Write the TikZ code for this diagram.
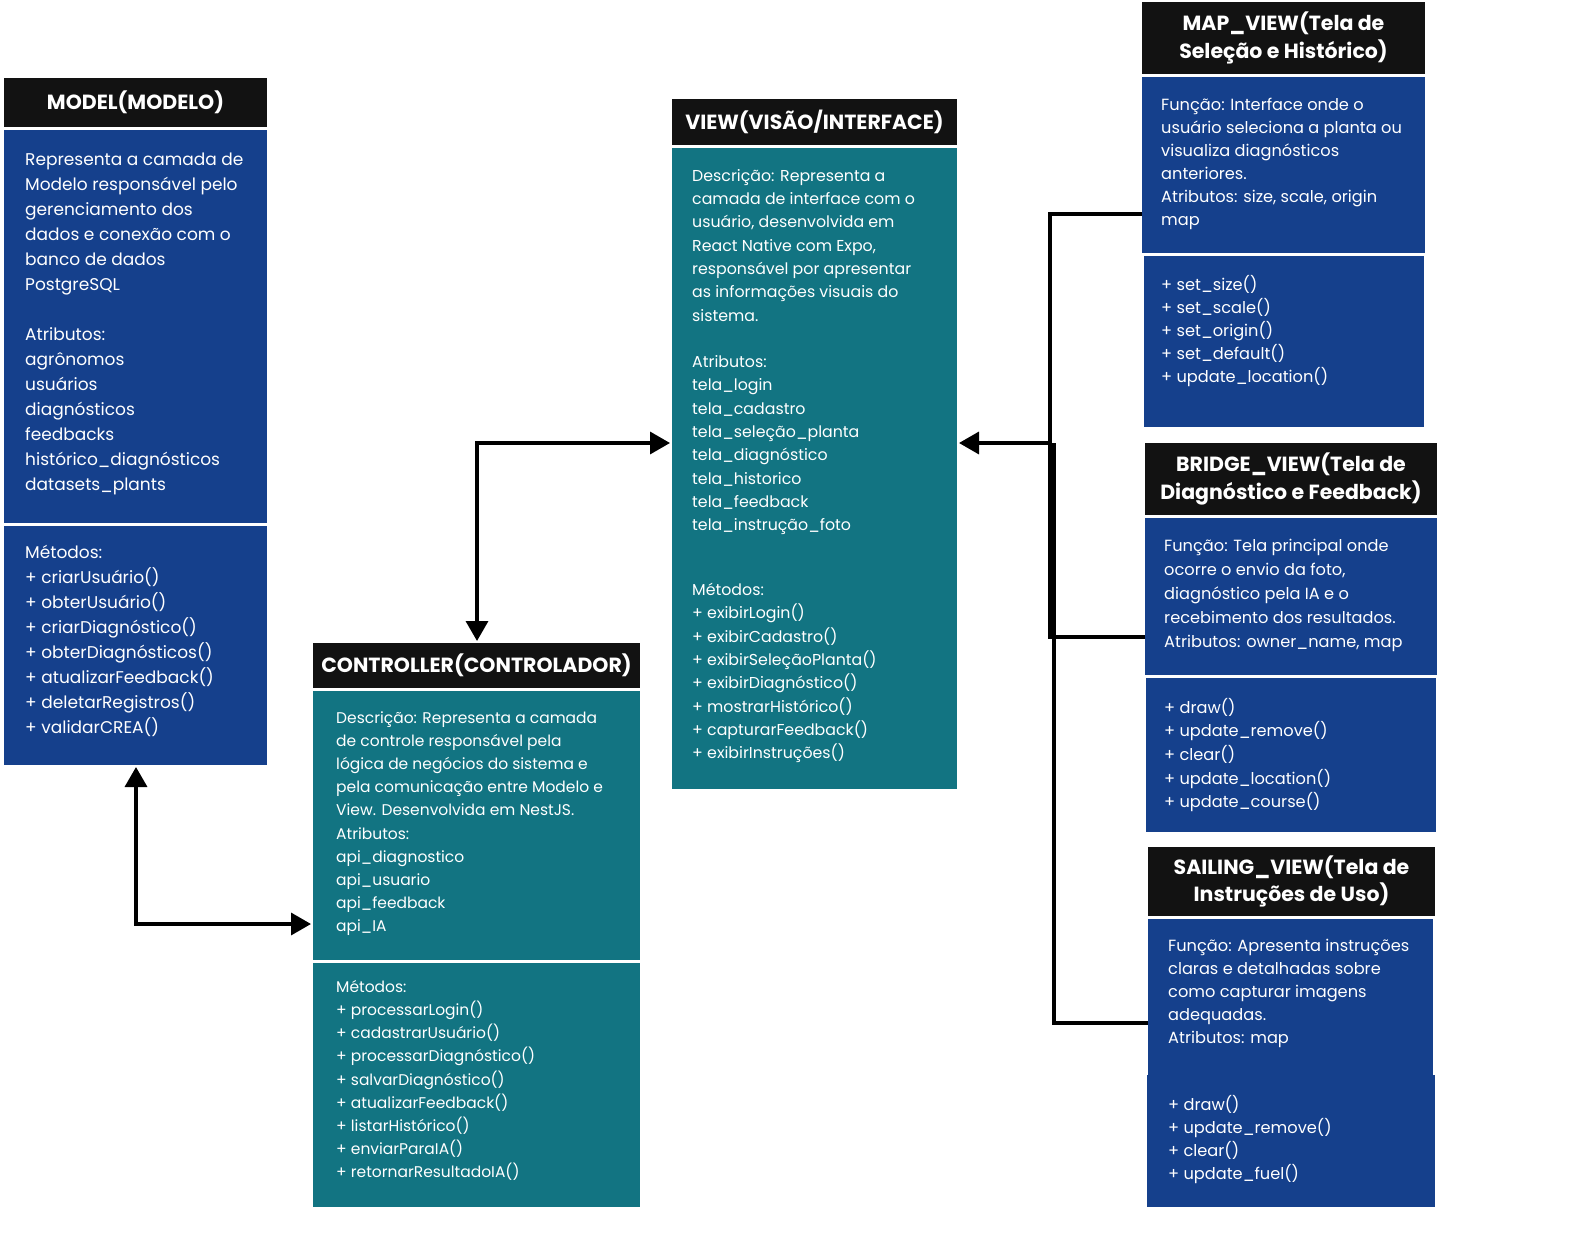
\documentclass[tikz,border=0pt]{standalone}
\usepackage{fontspec}
\setmainfont{Poppins}
\usetikzlibrary{arrows.meta,fit}
\definecolor{hdrblack}{HTML}{121212}
\definecolor{mvcblue}{HTML}{15408C}
\definecolor{mvcteal}{HTML}{127482}
\begin{document}
\begin{tikzpicture}[
    x=1pt, y=-1pt,
    hdr/.style={fill=hdrblack, inner sep=0pt},
    hdrtxt/.style={text=white, inner sep=0pt, align=center,
                   font=\bfseries\fontsize{20.5}{27.5}\selectfont},
    bluebox/.style={fill=mvcblue, inner sep=0pt},
    tealbox/.style={fill=mvcteal, inner sep=0pt},
    txt/.style={anchor=north west, text=white, align=left, inner sep=0pt},
    bigtxt/.style={txt, font=\fontsize{17}{25}\selectfont},
    ctrltxt/.style={txt, font=\fontsize{15.5}{23.2}\selectfont},
    viewtxt/.style={txt, font=\fontsize{15.8}{23.3}\selectfont},
    sidetxt/.style={txt, font=\fontsize{16.2}{23}\selectfont},
    arr/.style={-{Triangle[length=20pt, width=22pt]}, line width=3.5pt},
    dbl/.style={{Triangle[length=20pt, width=22pt]}-{Triangle[length=20pt, width=22pt]}, line width=3.5pt},
    bus/.style={line width=3.5pt},
  ]
  \useasboundingbox[fill=white] (0,0) rectangle (1596,1233);

  % Model
  \node[hdr, fit={(4,78) (267,127)}] (modelhead) {};
  \node[hdrtxt] (modeltitle) at (modelhead.center) {MODEL(MODELO)};
  \node[bluebox, fit={(4,130) (267,523)}] (modeldesc) {};
  \node[bluebox, fit={(4,526) (267,765)}] (modelmeth) {};
  \node[bigtxt] (modeldesctxt) at (25,153) {Representa a camada de\\Modelo responsável pelo\\gerenciamento dos\\dados e conexão com o\\banco de dados\\PostgreSQL\\[25pt]Atributos:\\agrônomos\\usuários\\diagnósticos\\feedbacks\\histórico\_diagnósticos\\datasets\_plants};
  \node[bigtxt] (modelmethtxt) at (25,545) {Métodos:\\+ criarUsuário()\\+ obterUsuário()\\+ criarDiagnóstico()\\+ obterDiagnósticos()\\+ atualizarFeedback()\\+ deletarRegistros()\\+ validarCREA()};

  % Controller
  \node[hdr, fit={(313,643) (640,688)}] (ctrlhead) {};
  \node[hdrtxt] (ctrltitle) at (ctrlhead.center) {CONTROLLER(CONTROLADOR)};
  \node[tealbox, fit={(313,691) (640,960)}] (ctrldesc) {};
  \node[tealbox, fit={(313,963) (640,1207)}] (ctrlmeth) {};
  \node[ctrltxt] (ctrldesctxt) at (336,711) {Descrição: Representa a camada\\de controle responsável pela\\lógica de negócios do sistema e\\pela comunicação entre Modelo e\\View. Desenvolvida em NestJS.\\Atributos:\\api\_diagnostico\\api\_usuario\\api\_feedback\\api\_IA};
  \node[ctrltxt] (ctrlmethtxt) at (336,980) {Métodos:\\+ processarLogin()\\+ cadastrarUsuário()\\+ processarDiagnóstico()\\+ salvarDiagnóstico()\\+ atualizarFeedback()\\+ listarHistórico()\\+ enviarParaIA()\\+ retornarResultadoIA()};

  % View
  \node[hdr, fit={(672,99) (957,145)}] (viewhead) {};
  \node[hdrtxt] (viewtitle) at (viewhead.center) {VIEW(VISÃO/INTERFACE)};
  \node[tealbox, fit={(672,148) (957,789)}] (viewbody) {};
  \node[viewtxt] (viewdesctxt) at (692,169) {Descrição: Representa a\\camada de interface com o\\usuário, desenvolvida em\\React Native com Expo,\\responsável por apresentar\\as informações visuais do\\sistema.\\[23.3pt]Atributos:\\tela\_login\\tela\_cadastro\\tela\_seleção\_planta\\tela\_diagnóstico\\tela\_historico\\tela\_feedback\\tela\_instrução\_foto};
  \node[viewtxt] (viewmethtxt) at (692,583) {Métodos:\\+ exibirLogin()\\+ exibirCadastro()\\+ exibirSeleçãoPlanta()\\+ exibirDiagnóstico()\\+ mostrarHistórico()\\+ capturarFeedback()\\+ exibirInstruções()};

  % Map view
  \node[hdr, fit={(1142,2) (1425,74)}] (maphead) {};
  \node[hdrtxt] (maptitle) at (maphead.center) {MAP\_VIEW(Tela de\\Seleção e Histórico)};
  \node[bluebox, fit={(1142,77) (1425,253)}] (mapdesc) {};
  \node[bluebox, fit={(1144,256) (1424,427)}] (mapmeth) {};
  \node[sidetxt] (mapdesctxt) at (1161,98) {Função: Interface onde o\\usuário seleciona a planta ou\\visualiza diagnósticos\\anteriores.\\Atributos: size, scale, origin\\map};
  \node[sidetxt] (mapmethtxt) at (1161,275) {+ set\_size()\\+ set\_scale()\\+ set\_origin()\\+ set\_default()\\+ update\_location()};

  % Bridge view
  \node[hdr, fit={(1145,443) (1437,515)}] (bridgehead) {};
  \node[hdrtxt] (bridgetitle) at (bridgehead.center) {BRIDGE\_VIEW(Tela de\\Diagnóstico e Feedback)};
  \node[bluebox, fit={(1145,518) (1437,675)}] (bridgedesc) {};
  \node[bluebox, fit={(1146,678) (1436,832)}] (bridgemeth) {};
  \node[sidetxt, font=\fontsize{16.2}{24}\selectfont] (bridgedesctxt) at (1164,539) {Função: Tela principal onde\\ocorre o envio da foto,\\diagnóstico pela IA e o\\recebimento dos resultados.\\Atributos: owner\_name, map};
  \node[sidetxt, font=\fontsize{16.2}{23.6}\selectfont] (bridgemethtxt) at (1164,698) {+ draw()\\+ update\_remove()\\+ clear()\\+ update\_location()\\+ update\_course()};

  % Sailing view
  \node[hdr, fit={(1148,847) (1435,916)}] (sailhead) {};
  \node[hdrtxt] (sailtitle) at (sailhead.center) {SAILING\_VIEW(Tela de\\Instruções de Uso)};
  \node[bluebox, fit={(1148,919) (1433,1076)}] (saildesc) {};
  \node[bluebox, fit={(1147,1075) (1435,1207)}] (sailmeth) {};
  \node[sidetxt] (saildesctxt) at (1168,939) {Função: Apresenta instruções\\claras e detalhadas sobre\\como capturar imagens\\adequadas.\\Atributos: map};
  \node[sidetxt] (sailmethtxt) at (1168,1095) {+ draw()\\+ update\_remove()\\+ clear()\\+ update\_fuel()};

  % Connector ends
  \coordinate (modelend) at (136,767);
  \coordinate (ctrlleft) at (311,924);
  \coordinate (ctrltop) at (477,641);
  \coordinate (viewleft) at (670,443);
  \coordinate (viewright) at (959,443);
  \coordinate (busleft) at (1050,443);
  \coordinate (busright) at (1054,443);
  \coordinate (mapin) at (1142,214);
  \coordinate (bridgein) at (1145,637);
  \coordinate (sailin) at (1148,1023);

  % Edges
  \draw[dbl] (modelend) |- (ctrlleft);
  \draw[dbl] (ctrltop) |- (viewleft);
  \draw[bus] (mapin) -| (busleft);
  \draw[bus] (bridgein) -| (busleft);
  \draw[bus] (sailin) -| (busright);
  \draw[arr] (busleft) -- (viewright);

\end{tikzpicture}
\end{document}
